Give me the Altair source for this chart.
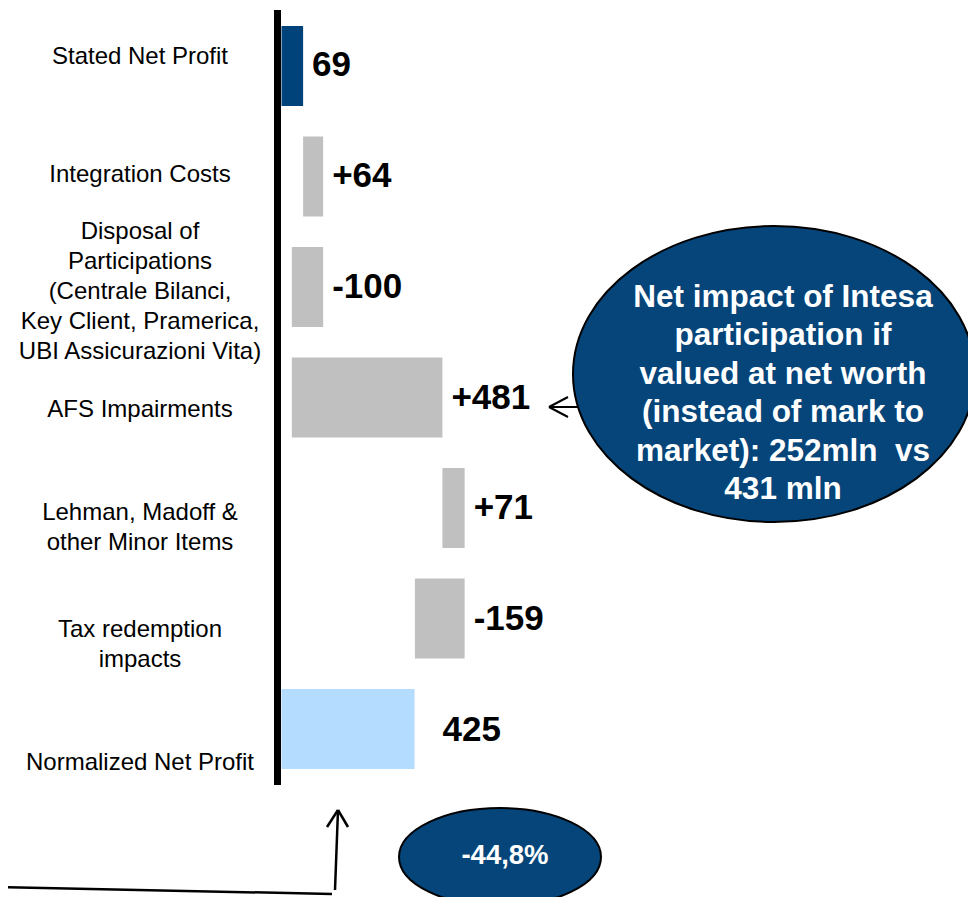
import altair as alt
import pandas as pd

# ---- data ----
categories = [
    "Stated Net Profit",
    "Integration Costs",
    "Disposal of|Participations|(Centrale Bilanci,|Key Client, Pramerica,|UBI Assicurazioni Vita)",
    "AFS Impairments",
    "Lehman, Madoff &|other Minor Items",
    "Tax redemption|impacts",
    "Normalized Net Profit",
]
amounts = [69, 64, -100, 481, 71, -159, 425]
kinds = ["start", "delta", "delta", "delta", "delta", "delta", "total"]
value_labels = ["69", "+64", "-100", "+481", "+71", "-159", "425"]

ellipse_text = ["Net impact of Intesa", "participation if", "valued at net worth",
                "(instead of mark to", "market): 252mln\u00a0 vs", "431 mln"]
change_text = "-44,8%"

# ---- build waterfall table ----
LH = 30  # category label line height
rows = []
running = 0
for i, (c, a, k, lab) in enumerate(zip(categories, amounts, kinds, value_labels)):
    if k == "delta":
        start, end = running, running + a
        running = end
    else:
        start, end = 0, a
        running = a
    nlines = c.count("|") + 1
    rows.append({"order": i, "cat": c, "start": start, "end": end,
                 "kind": k, "label": lab, "lx": max(start, end),
                 "yoff": -(nlines - 1) * LH / 2})
df = pd.DataFrame(rows)

FONT = "Liberation Sans"
W, H = 694, 775
cat_order = categories

xscale = alt.Scale(domain=[-24, 2193], nice=False, zero=False)
yscale = alt.Scale(domain=cat_order, paddingInner=0.276, paddingOuter=0.145)

base = alt.Chart(df)

bars = base.mark_bar().encode(
    x=alt.X("start:Q", scale=xscale, axis=None),
    x2="end:Q",
    y=alt.Y("cat:N", scale=yscale, axis=None, sort=cat_order),
    color=alt.Color("kind:N", scale=alt.Scale(domain=["start", "delta", "total"],
                                             range=["#00427a", "#c0c0c0", "#b4dcfe"]),
                    legend=None),
)

def value_layer(filt, dx):
    return base.transform_filter(filt).mark_text(
        align="left", baseline="middle", dx=dx, font=FONT,
        fontWeight="bold", fontSize=35, color="black").encode(
        x=alt.X("lx:Q", scale=xscale, axis=None),
        y=alt.Y("cat:N", scale=yscale, axis=None, sort=cat_order),
        text="label:N",
    )

vals = value_layer("datum.kind != 'total'", 9)
vals_total = value_layer("datum.kind == 'total'", 28)

one = alt.Chart(pd.DataFrame({"a": [0]}))

axis_line = one.mark_rule(color="black", strokeWidth=7).encode(
    x=alt.value(3.5), y=alt.value(0), y2=alt.value(H))

cat_labels = base.mark_text(align="center", baseline="middle", font=FONT,
                            fontSize=24, lineBreak="|", lineHeight=LH,
                            color="black").encode(
    x=alt.value(-134),
    y=alt.Y("cat:N", sort=cat_order, axis=None,
            scale=alt.Scale(type="point", domain=cat_order, range=[47, 753], padding=0)),
    yOffset=alt.YOffset("yoff:Q", scale=None),
    text="cat:N",
)

def ellipse_path(b):
    k = 0.5523
    return (f"M -1 0 C -1 {-k*b:.4f} {-k:.4f} {-b:.4f} 0 {-b:.4f} "
            f"C {k:.4f} {-b:.4f} 1 {-k*b:.4f} 1 0 "
            f"C 1 {k*b:.4f} {k:.4f} {b:.4f} 0 {b:.4f} "
            f"C {-k:.4f} {b:.4f} -1 {k*b:.4f} -1 0 Z")

big_ell = one.mark_point(shape=ellipse_path(148 / 201), filled=True, fill="#05457a",
                         fillOpacity=1, stroke="black", strokeWidth=2, opacity=1).encode(
    x=alt.value(500), y=alt.value(364), size=alt.value(402 * 402))

BLH = 38.5
big_txt = one.mark_text(align="center", baseline="middle", font=FONT, fontWeight="bold",
                        fontSize=31.5, lineHeight=BLH, color="white").encode(
    x=alt.value(509), y=alt.value(384 - (len(ellipse_text) - 1) * BLH / 2),
    text=alt.value(ellipse_text))

small_ell = one.mark_point(shape=ellipse_path(49 / 101), filled=True, fill="#05457a",
                           fillOpacity=1, stroke="black", strokeWidth=2, opacity=1).encode(
    x=alt.value(226), y=alt.value(847), size=alt.value(202 * 202))

small_txt = one.mark_text(align="center", baseline="middle", font=FONT, fontWeight="bold",
                          fontSize=27.5, color="white").encode(
    x=alt.value(231), y=alt.value(846), text=alt.value(change_text))

def seg(x1, y1, x2, y2, w=2):
    return one.mark_rule(color="black", strokeWidth=w).encode(
        x=alt.value(x1), y=alt.value(y1), x2=alt.value(x2), y2=alt.value(y2))

arrows = [
    seg(275, 397, 304, 397),
    seg(275, 397, 294, 387),
    seg(275, 397, 294, 407),
    seg(-274, 877, 58, 884, 2.5),
    seg(61, 880, 64, 800, 2.5),
    seg(64, 800, 53, 817, 2.5),
    seg(64, 800, 74, 817, 2.5),
]

chart = alt.layer(bars, axis_line, vals, vals_total, cat_labels, *arrows,
                  big_ell, big_txt, small_ell, small_txt).resolve_scale(
    y="independent", x="independent"
).properties(
    width=W, height=H,
    autosize=alt.AutoSizeParams(type="none"),
    padding={"left": 266, "top": 2, "right": 0, "bottom": 112},
).configure_view(stroke=None)

chart.save("out.html", embed_options={"renderer": "svg", "actions": False})
